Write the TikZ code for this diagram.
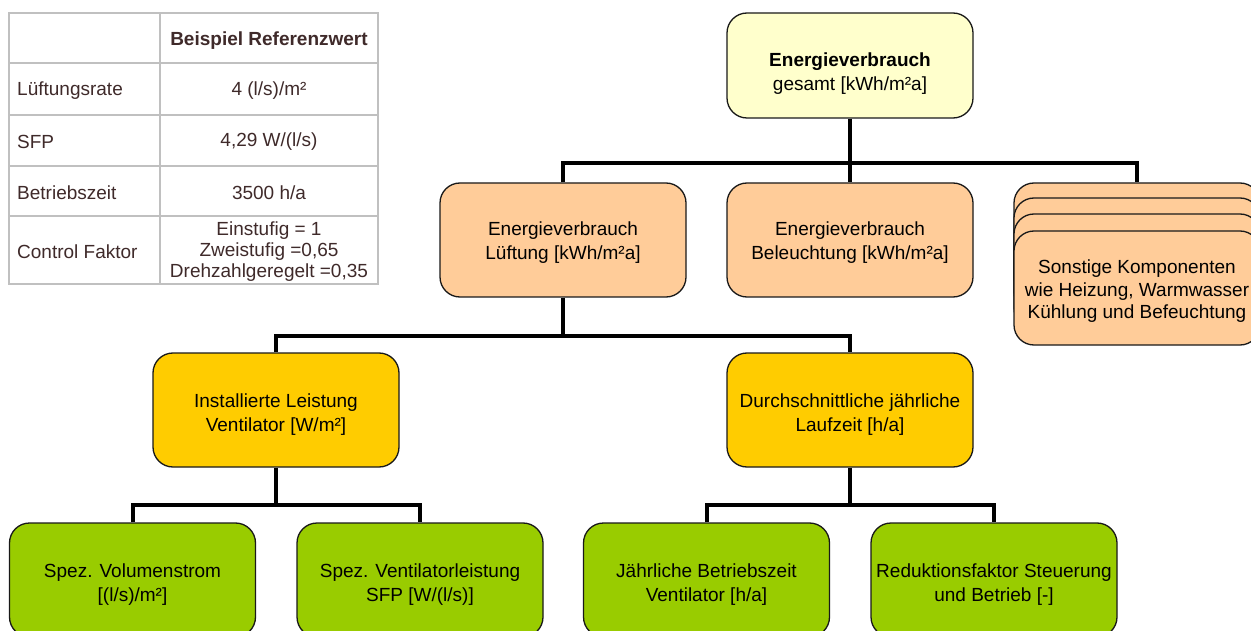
\documentclass[tikz,border=0pt]{standalone}
\usepackage{fontspec}
\setmainfont{Liberation Sans}
\definecolor{peach}{HTML}{FFCC99}
\definecolor{gold}{HTML}{FFCC00}
\definecolor{leaf}{HTML}{99CC00}
\definecolor{cream}{HTML}{FFFFCC}
\definecolor{tabtext}{HTML}{3F2A2A}
\definecolor{tabgrid}{HTML}{C0C0C0}
\tikzset{
  box/.style={draw=black!90, line width=1.3pt, rounded corners=20pt,
    minimum width=246pt, minimum height=114pt, align=center,
    font=\fontsize{19}{24}\selectfont, text=black, inner sep=0pt,
    text height=42pt, text depth=0pt},
  conn/.style={line width=4pt, black, line join=miter},
  grid/.style={line width=2.5pt, tabgrid},
  ttext/.style={font=\fontsize{19}{21}\selectfont, text=tabtext, inner sep=0pt, align=center}
}
\begin{document}
\begin{tikzpicture}[x=1pt,y=-1pt]
\useasboundingbox (0,0) rectangle (1251,631);
\clip (0,0) rectangle (1251,631);
\fill[white] (0,0) rectangle (1251,631);

% ---- table ----
\draw[grid] (9,13) rectangle (378,284);
\draw[grid] (160,13) -- (160,284);
\foreach \yy in {63,115,166,216} \draw[grid] (9,\yy) -- (378,\yy);
\node[ttext, font=\fontsize{19}{21}\selectfont\bfseries] (hdr) at (269,41) {Beispiel Referenzwert};
\node[ttext, anchor=west] (r1l) at (17,91) {Lüftungsrate};
\node[ttext] (r1v) at (269,91) {4 (l/s)/m²};
\node[ttext, anchor=west] (r2l) at (17,142) {SFP};
\node[ttext] (r2v) at (269,142) {4,29 W/(l/s)};
\node[ttext, anchor=west] (r3l) at (17,193) {Betriebszeit};
\node[ttext] (r3v) at (269,193) {3500 h/a};
\node[ttext, anchor=west] (r4l) at (17,252) {Control Faktor};
\node[ttext] (r4v) at (269,252) {Einstufig = 1\\Zweistufig =0,65\\Drehzahlgeregelt =0,35};

% ---- level 1 ----
\node[box, fill=cream, minimum height=105pt, text height=50pt] (top) at (850,65.5)
  {\textbf{Energieverbrauch}\\ gesamt {[}kWh/m²a{]}};

% ---- level 2 ----
\node[box, fill=peach, text height=40pt] (lueft) at (563,240) {Energieverbrauch\\Lüftung {[}kWh/m²a{]}};
\node[box, fill=peach, text height=40pt] (bel) at (850,240) {Energieverbrauch\\Beleuchtung {[}kWh/m²a{]}};
\node[box, fill=peach] (son0) at (1137,240) {};
\node[box, fill=peach] (son1) at (1137,255) {};
\node[box, fill=peach] (son2) at (1137,271) {};
\node[box, fill=peach, font=\fontsize{19}{22.5}\selectfont, text height=62pt] (son3) at (1137,288)
  {Sonstige Komponenten\\wie Heizung, Warmwasser\\Kühlung und Befeuchtung};

% ---- level 3 ----
\node[box, fill=gold] (inst) at (276,410) {Installierte Leistung\\Ventilator {[}W/m²{]}};
\node[box, fill=gold] (durch) at (850,410) {Durchschnittliche jährliche\\Laufzeit {[}h/a{]}};

% ---- level 4 ----
\node[box, fill=leaf] (vol) at (132.5,580) {Spez. Volumenstrom\\{[}(l/s)/m²{]}};
\node[box, fill=leaf] (vent) at (420,580) {Spez. Ventilatorleistung\\SFP {[}W/(l/s){]}};
\node[box, fill=leaf] (jahr) at (706.5,580) {Jährliche Betriebszeit\\Ventilator {[}h/a{]}};
\node[box, fill=leaf] (red) at (994,580) {Reduktionsfaktor Steuerung\\und Betrieb {[}-{]}};

% ---- connectors ----
\coordinate (j1) at (850,163);
\coordinate (j2) at (563,336);
\coordinate (j3) at (276,505);
\coordinate (j4) at (850,505);
\draw[conn] (top.south) -- (bel.north);
\draw[conn] (lueft.north) |- (j1) -| (son0.north);
\draw[conn] (lueft.south) -- (j2);
\draw[conn] (inst.north) |- (j2) -| (durch.north);
\draw[conn] (inst.south) -- (j3);
\draw[conn] (vol.north) |- (j3) -| (vent.north);
\draw[conn] (durch.south) -- (j4);
\draw[conn] (jahr.north) |- (j4) -| (red.north);
\end{tikzpicture}
\end{document}
